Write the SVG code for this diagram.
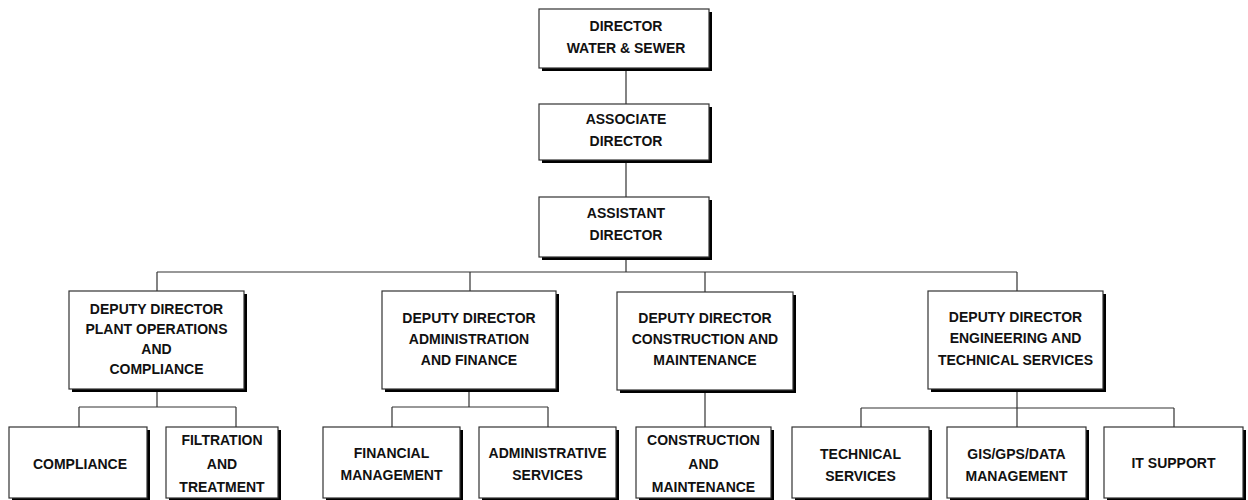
<svg xmlns="http://www.w3.org/2000/svg" width="1248" height="500" viewBox="0 0 1248 500">
<style>
.sh{fill:#000}
.bx{fill:#fff;stroke:#333;stroke-width:1.2}
.t{font-family:"Liberation Sans",Arial,sans-serif;font-weight:bold;font-size:14px;fill:#111;text-anchor:middle}
.c{fill:none;stroke:#333;stroke-width:1.2}
</style>
<rect width="1248" height="500" fill="#fff"/>
<g id="connectors">
<path class="c" d="M626 68V104M626 160V197M626 257V272M157 272H1017M157 272V291M470 272V291M705 272V292M1017 272V291"/>
<path class="c" d="M157 389V407M79 407H236M79 407V427M236 407V427"/>
<path class="c" d="M469 389V407M392 407H548M392 407V427M548 407V427"/>
<path class="c" d="M705 390V427"/>
<path class="c" d="M1017 389V408M861 408H1174M861 408V427M1017 408V427M1174 408V427"/>
</g>
<g id="director">
<rect class="sh" x="542" y="12" width="170" height="59"/>
<rect class="bx" x="539" y="9" width="170" height="59"/>
<text class="t" x="626" y="31">DIRECTOR</text>
<text class="t" x="626" y="53">WATER &amp; SEWER</text>
</g>
<g id="associate">
<rect class="sh" x="542" y="107" width="170" height="56"/>
<rect class="bx" x="539" y="104" width="170" height="56"/>
<text class="t" x="626" y="124">ASSOCIATE</text>
<text class="t" x="626" y="146">DIRECTOR</text>
</g>
<g id="assistant">
<rect class="sh" x="542" y="200" width="170" height="60"/>
<rect class="bx" x="539" y="197" width="170" height="60"/>
<text class="t" x="626" y="218">ASSISTANT</text>
<text class="t" x="626" y="240">DIRECTOR</text>
</g>
<g id="dd-plant">
<rect class="sh" x="72" y="294" width="175" height="98"/>
<rect class="bx" x="69" y="291" width="175" height="98"/>
<text class="t" x="156.5" y="314">DEPUTY DIRECTOR</text>
<text class="t" x="156.5" y="334">PLANT OPERATIONS</text>
<text class="t" x="156.5" y="354">AND</text>
<text class="t" x="156.5" y="374">COMPLIANCE</text>
</g>
<g id="dd-admin">
<rect class="sh" x="385" y="294" width="174" height="98"/>
<rect class="bx" x="382" y="291" width="174" height="98"/>
<text class="t" x="469" y="323">DEPUTY DIRECTOR</text>
<text class="t" x="469" y="344">ADMINISTRATION</text>
<text class="t" x="469" y="365">AND FINANCE</text>
</g>
<g id="dd-construction">
<rect class="sh" x="620" y="295" width="176" height="98"/>
<rect class="bx" x="617" y="292" width="176" height="98"/>
<text class="t" x="705" y="323">DEPUTY DIRECTOR</text>
<text class="t" x="705" y="344">CONSTRUCTION AND</text>
<text class="t" x="705" y="365">MAINTENANCE</text>
</g>
<g id="dd-engineering">
<rect class="sh" x="931" y="294" width="175" height="98"/>
<rect class="bx" x="928" y="291" width="175" height="98"/>
<text class="t" x="1015.5" y="322">DEPUTY DIRECTOR</text>
<text class="t" x="1015.5" y="343">ENGINEERING AND</text>
<text class="t" x="1015.5" y="365">TECHNICAL SERVICES</text>
</g>
<g id="compliance">
<rect class="sh" x="12" y="430" width="138" height="71"/>
<rect class="bx" x="9" y="427" width="138" height="71"/>
<text class="t" x="80" y="469">COMPLIANCE</text>
</g>
<g id="filtration">
<rect class="sh" x="169" y="430" width="112" height="71"/>
<rect class="bx" x="166" y="427" width="112" height="71"/>
<text class="t" x="222" y="445">FILTRATION</text>
<text class="t" x="222" y="469">AND</text>
<text class="t" x="222" y="492">TREATMENT</text>
</g>
<g id="financial">
<rect class="sh" x="326" y="430" width="137" height="71"/>
<rect class="bx" x="323" y="427" width="137" height="71"/>
<text class="t" x="391.5" y="458">FINANCIAL</text>
<text class="t" x="391.5" y="480">MANAGEMENT</text>
</g>
<g id="admin-services">
<rect class="sh" x="482" y="430" width="137" height="71"/>
<rect class="bx" x="479" y="427" width="137" height="71"/>
<text class="t" x="547.5" y="458">ADMINISTRATIVE</text>
<text class="t" x="547.5" y="480">SERVICES</text>
</g>
<g id="construction-maintenance">
<rect class="sh" x="639" y="430" width="135" height="71"/>
<rect class="bx" x="636" y="427" width="135" height="71"/>
<text class="t" x="703.5" y="445">CONSTRUCTION</text>
<text class="t" x="703.5" y="469">AND</text>
<text class="t" x="703.5" y="492">MAINTENANCE</text>
</g>
<g id="technical">
<rect class="sh" x="795" y="430" width="137" height="71"/>
<rect class="bx" x="792" y="427" width="137" height="71"/>
<text class="t" x="860.5" y="459">TECHNICAL</text>
<text class="t" x="860.5" y="481">SERVICES</text>
</g>
<g id="gis">
<rect class="sh" x="950" y="430" width="139" height="71"/>
<rect class="bx" x="947" y="427" width="139" height="71"/>
<text class="t" x="1016.5" y="459">GIS/GPS/DATA</text>
<text class="t" x="1016.5" y="481">MANAGEMENT</text>
</g>
<g id="it-support">
<rect class="sh" x="1107" y="430" width="139" height="71"/>
<rect class="bx" x="1104" y="427" width="139" height="71"/>
<text class="t" x="1173.5" y="468">IT SUPPORT</text>
</g>
</svg>
